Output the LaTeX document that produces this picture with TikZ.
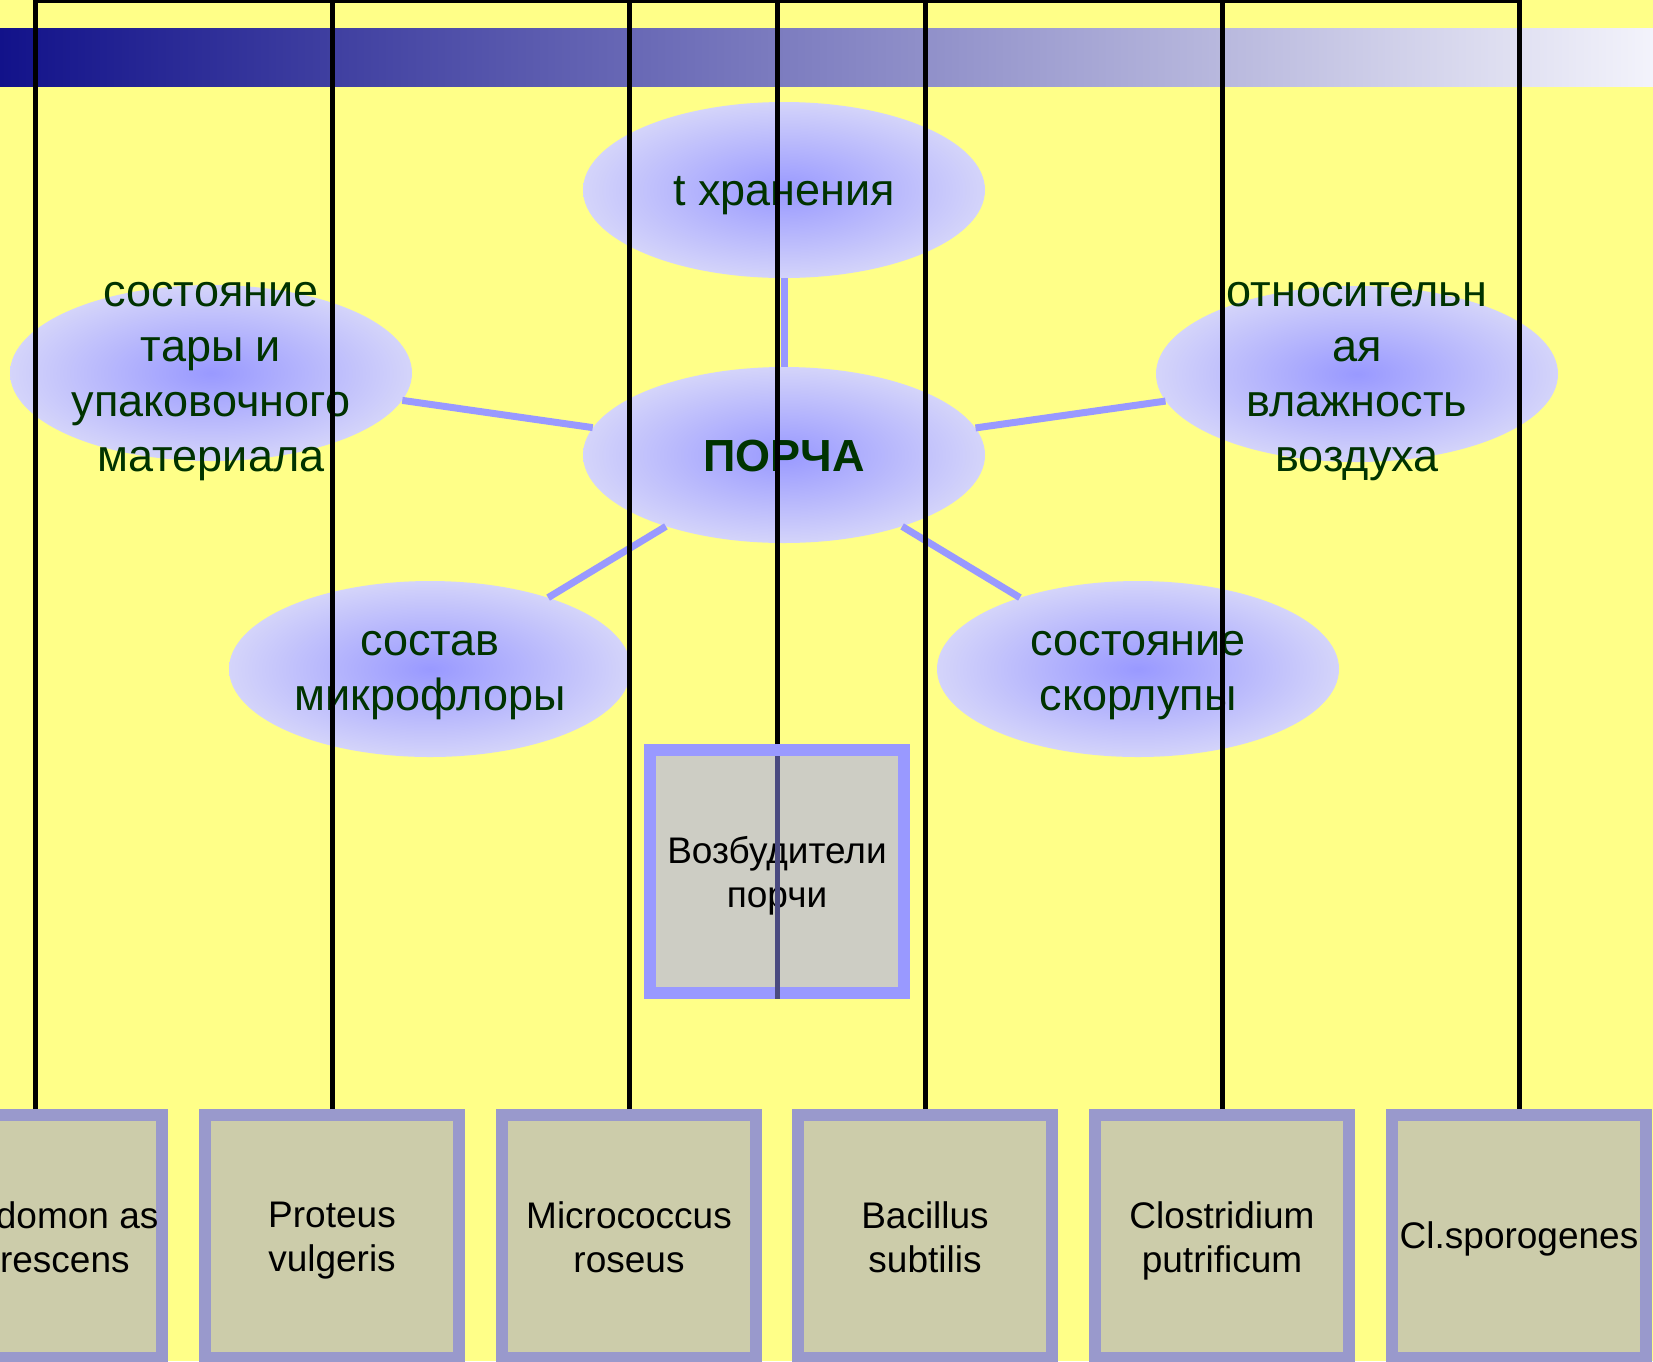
\documentclass[tikz,border=0pt]{standalone}
\usepackage{fontspec}
\setmainfont{Liberation Sans}
\usetikzlibrary{shapes.geometric}
\definecolor{bgyellow}{RGB}{255,255,136}
\definecolor{bannerl}{RGB}{18,18,138}
\definecolor{bannerr}{RGB}{243,243,251}
\definecolor{txtgreen}{RGB}{0,51,0}
\definecolor{ellin}{RGB}{153,153,255}
\definecolor{ellout}{RGB}{212,212,250}
\definecolor{linkc}{RGB}{153,153,255}
\definecolor{boxborder}{RGB}{153,153,204}
\definecolor{boxfill}{RGB}{204,204,170}
\definecolor{cborder}{RGB}{153,153,255}
\definecolor{cfill}{RGB}{205,205,196}
\definecolor{navyline}{RGB}{74,74,128}
\begin{document}
\begin{tikzpicture}[x=1pt,y=-1pt,
  ell/.style={ellipse, minimum width=402pt, minimum height=176pt, inner sep=0pt, draw=none, inner color=ellin, outer color=ellout},
  etxt/.style={align=center, text=txtgreen, font={\fontsize{45}{55}\selectfont}, inner sep=0pt},
  link/.style={draw=linkc, line width=7pt},
  bbox/.style={draw=boxborder, fill=boxfill, line width=12pt, minimum width=254pt, minimum height=243pt, inner sep=0pt},
  cbox/.style={draw=cborder, fill=cfill, line width=12pt, minimum width=254pt, minimum height=243pt, inner sep=0pt},
  btxt/.style={align=center, text=black, font={\fontsize{37}{44}\selectfont}, inner sep=0pt},
  blk/.style={draw=black, line width=5pt},
]
\useasboundingbox (0,0) rectangle (1653,1361);
\clip (0,0) rectangle (1653,1361);
\fill[bgyellow] (0,0) rectangle (1653,1361);
\shade[left color=bannerl, right color=bannerr] (0,28) rectangle (1653,86);

% ellipses
\node[ell] (th) at (784,190) {};
\node[ell] (por) at (784,455) {};
\node[ell] (tara) at (211,373) {};
\node[ell] (vl) at (1357,374) {};
\node[ell] (mf) at (430,669) {};
\node[ell] (sk) at (1138,669) {};

\draw[link] (por) -- (th);
\draw[link] (por) -- (tara);
\draw[link] (por) -- (vl);
\draw[link] (por) -- (mf);
\draw[link] (por) -- (sk);

\node[etxt] (tht) at (784,196) {t хранения};
\node[etxt, font={\fontsize{45}{55}\selectfont\bfseries}] (port) at (784,456) {ПОРЧА};
\node[etxt] (tarat) at (211,382) {состояние\\тары и\\упаковочного\\материала};
\node[etxt] (vlt) at (1357,382) {относительн\\ая\\влажность\\воздуха};
\node[etxt] (mft) at (430,676) {состав\\микрофлоры};
\node[etxt] (skt) at (1138,676) {состояние\\скорлупы};

% center box
\node[cbox] (vb) at (777,871.5) {};
\node[btxt] (vbt) at (777,876) {Возбудители\\порчи};

% bottom boxes
\node[bbox] (b1) at (35,1236.5) {};
\node[bbox] (b2) at (332,1236.5) {};
\node[bbox] (b3) at (629,1236.5) {};
\node[bbox] (b4) at (925,1236.5) {};
\node[bbox] (b5) at (1222,1236.5) {};
\node[bbox] (b6) at (1519,1236.5) {};
\node[btxt] (b1t) at (35,1237) {Pseudomon as\\fluorescens};
\node[btxt] (b2t) at (332,1241) {Proteus\\vulgeris};
\node[btxt] (b3t) at (629,1237) {Micrococcus\\roseus};
\node[btxt] (b4t) at (925,1237) {Bacillus\\subtilis};
\node[btxt] (b5t) at (1222,1241) {Clostridium\\putrificum};
\node[btxt] (b6t) at (1519,1239) {Cl.sporogenes};

% black connector lines
\coordinate (topbar) at (0,0.5);
\draw[blk] (b1.north) -- (b1.north |- topbar) -- (b6.north |- topbar) -- (b6.north);
\foreach \n in {b2,b3,b4,b5} \draw[blk] (\n.north) -- (\n.north |- topbar);
\draw[blk] (vb.north) -- (vb.north |- topbar);
\draw[draw=navyline, line width=5pt] ([yshift=-12pt]vb.north) -- (vb.south);
\end{tikzpicture}
\end{document}
